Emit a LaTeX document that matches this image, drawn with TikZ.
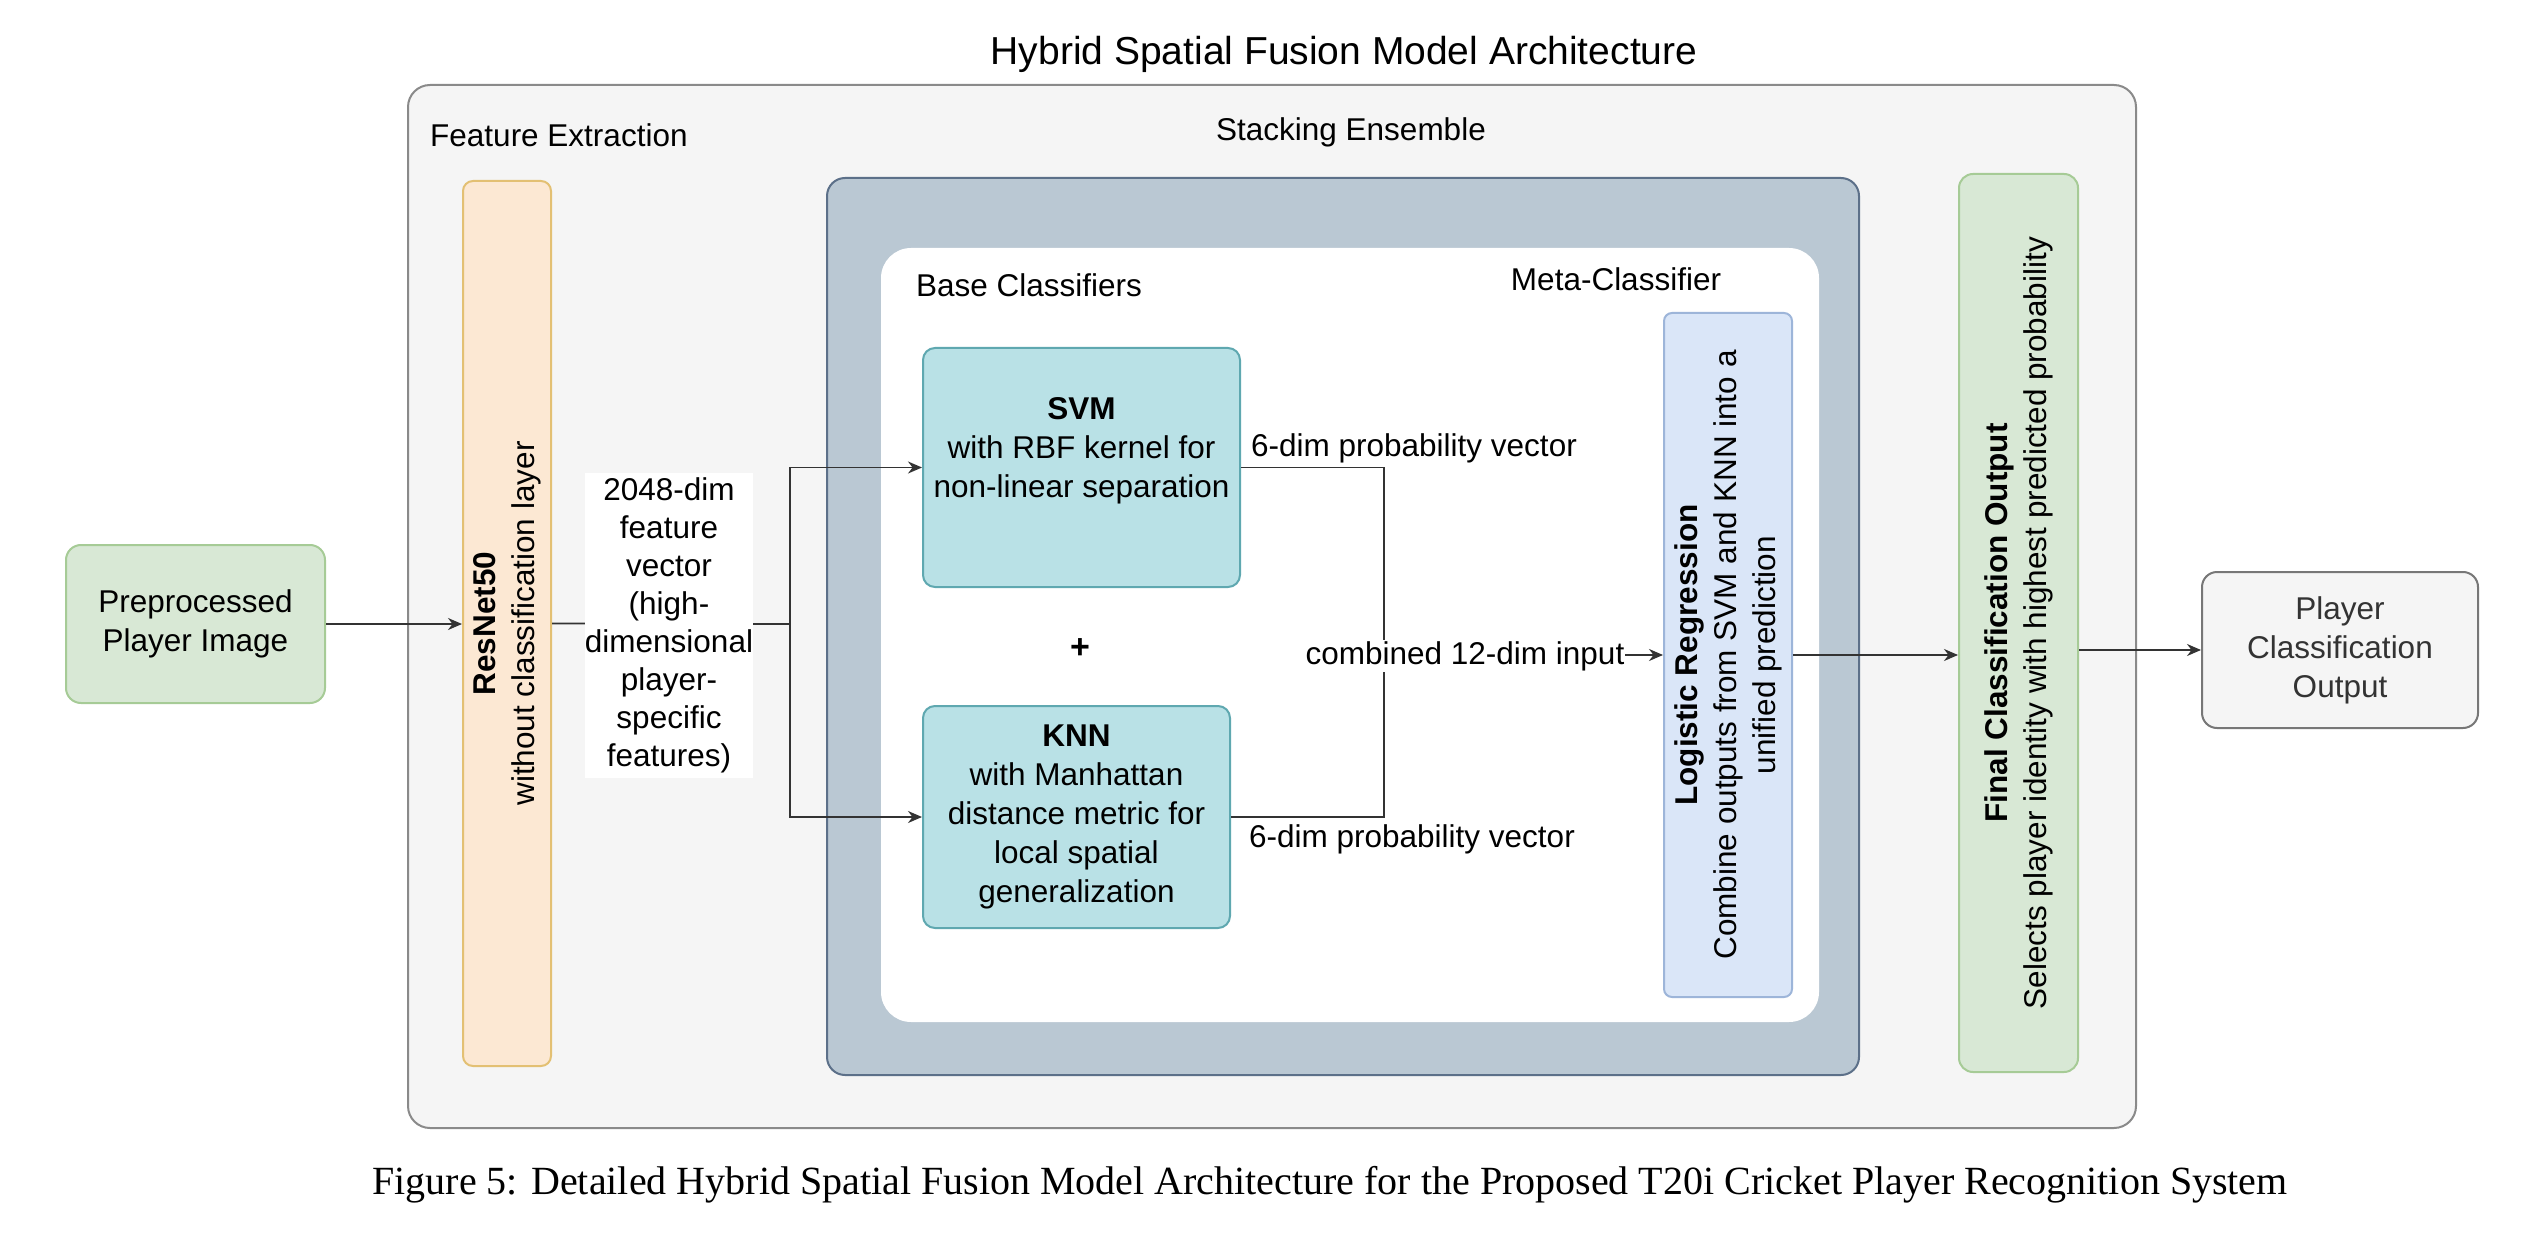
\documentclass[tikz,border=0pt]{standalone}
\usepackage{fontspec}
\setmainfont{Liberation Sans}
\newfontfamily\capfont{Liberation Serif}
\usetikzlibrary{arrows.meta}

\definecolor{outerfill}{HTML}{F5F5F5}
\definecolor{outerline}{HTML}{8A8A8A}
\definecolor{resfill}{HTML}{FCE8D3}
\definecolor{resline}{HTML}{E3C073}
\definecolor{stackfill}{HTML}{BAC8D3}
\definecolor{stackline}{HTML}{5C7089}
\definecolor{clsfill}{HTML}{B9E1E6}
\definecolor{clsline}{HTML}{5FA8B0}
\definecolor{metafill}{HTML}{DAE6F8}
\definecolor{metaline}{HTML}{9DB5D9}
\definecolor{greenfill}{HTML}{D8E8D5}
\definecolor{greenline}{HTML}{A6CB96}
\definecolor{outline}{HTML}{777777}
\definecolor{edgecol}{HTML}{333333}

\begin{document}
\begin{tikzpicture}[x=1pt,y=1pt]
    \tikzstyle{every node}=[font=\fontsize{31.5}{39}\selectfont, inner sep=0pt, align=center]
    \tikzstyle{box}=[draw, line width=2pt, rounded corners=12pt]
    \tikzstyle{arr}=[-{Stealth[length=14pt,width=12pt]}, line width=1.8pt, draw=edgecol]
    \tikzstyle{line}=[line width=1.8pt, draw=edgecol]
    \useasboundingbox (0,0) rectangle (2546,-1246);

    % containers
    \node[box, fill=outerfill, draw=outerline, rounded corners=22pt, minimum width=1728pt, minimum height=1043pt] (outer) at (1272,-606.5) {};
    \node[box, fill=stackfill, draw=stackline, rounded corners=18pt, minimum width=1032pt, minimum height=897pt] (stack) at (1343,-626.5) {};
    \node[fill=white, rounded corners=30pt, minimum width=938pt, minimum height=774pt] (inner) at (1350,-635) {};

    \node[font=\fontsize{39}{46}\selectfont] (title) at (1344,-54) {Hybrid Spatial Fusion Model Architecture};
    \node[anchor=west] (fe) at (430,-135) {Feature Extraction};
    \node (se) at (1351,-132) {Stacking Ensemble};
    \node[anchor=west] (bc) at (916,-285) {Base Classifiers};
    \node (mc) at (1616,-279) {Meta-Classifier};

    % boxes
    \node[box, fill=greenfill, draw=greenline, rounded corners=15pt, minimum width=259pt, minimum height=158pt] (pre) at (195.5,-624) {Preprocessed\\Player Image};
    \node[box, fill=resfill, draw=resline, rotate=90, rounded corners=10pt, minimum width=885pt, minimum height=88pt] (res) at (507,-623.5) {\textbf{ResNet50}\\without classification layer};
    \node[box, fill=clsfill, draw=clsline, minimum width=317pt, minimum height=239pt] (svm) at (1081.5,-467.5) {\textbf{SVM}\\with RBF kernel for\\non-linear separation\\~};
    \node[box, fill=clsfill, draw=clsline, minimum width=307pt, minimum height=222pt] (knn) at (1076.5,-817) {\textbf{KNN}\\with Manhattan\\distance metric for\\local spatial\\generalization};
    \node[font=\fontsize{34}{40}\selectfont\bfseries] (plus) at (1080,-649) {+};
    \node[box, fill=metafill, draw=metaline, rotate=90, rounded corners=8pt, minimum width=684pt, minimum height=128pt] (lr) at (1728,-655) {\textbf{Logistic Regression}\\Combine outputs from SVM and KNN into a\\unified prediction};
    \node[box, fill=greenfill, draw=greenline, rotate=90, rounded corners=14pt, minimum width=898pt, minimum height=119pt] (fin) at (2018.5,-623) {\textbf{Final Classification Output}\\Selects player identity with highest predicted probability};
    \node[box, fill=outerfill, draw=outline, text=black!80, rounded corners=15pt, minimum width=276pt, minimum height=156pt] (out) at (2340,-650) {Player\\Classification\\Output};

    % connectors
    \coordinate (split) at (790,-624);
    \coordinate (merge) at (1384,-655);
    \draw[arr] (pre.east) -- (pre.east -| res.north);
    \draw[line] (res.south) -- (split);
    \draw[arr] (split) |- (svm.west);
    \draw[arr] (split) |- (knn.west);
    \draw[line] (svm.east) -| (merge);
    \draw[line] (knn.east) -| (merge);
    \draw[arr] (merge) -- (lr.north);
    \draw[arr] (lr.south) -- (lr.south -| fin.north);
    \draw[arr] (out.west -| fin.south) -- (out.west);

    % edge labels
    \node[fill=white, minimum width=168pt, minimum height=305pt, font=\fontsize{31.5}{38}\selectfont] (feat) at (669,-625.5) {2048-dim\\feature\\vector\\(high-\\dimensional\\player-\\specific\\features)};
    \node (p1) at (1414,-448) {6-dim probability vector};
    \node (p2) at (1412,-839) {6-dim probability vector};
    \node[fill=white, inner sep=1pt] (comb) at (1465,-656) {combined 12-dim input};

    \node[font=\capfont\fontsize{40}{47}\selectfont] (cap) at (1330,-1185) {Figure 5: Detailed Hybrid Spatial Fusion Model Architecture for the Proposed T20i Cricket Player Recognition System};
\end{tikzpicture}
\end{document}
